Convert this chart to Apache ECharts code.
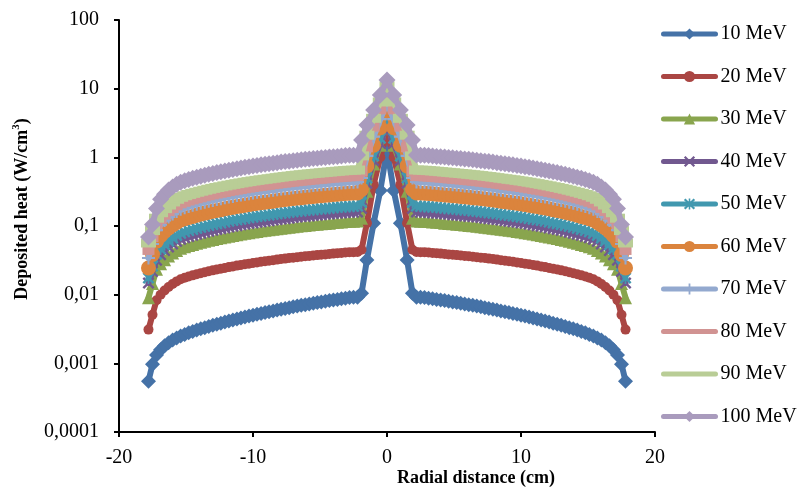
<!DOCTYPE html>
<html>
<head>
<meta charset="utf-8">
<script src="https://cdn.jsdelivr.net/npm/echarts@6/dist/echarts.min.js"></script>
<style>
html,body{margin:0;padding:0;background:#fff;}
#c{width:800px;height:491px;}
</style>
</head>
<body>
<div id="c"></div>
<script>
// Radial positions (cm)
const X = [-17.8, -17.5, -17.2, -16.9, -16.6, -16.3, -16.0, -15.7, -15.4, -15.1, -14.8, -14.5, -14.2, -13.9, -13.6, -13.3, -13.0, -12.7, -12.4, -12.1, -11.8, -11.5, -11.2, -10.9, -10.6, -10.3, -10.0, -9.7, -9.4, -9.1, -8.8, -8.5, -8.2, -7.9, -7.6, -7.3, -7.0, -6.7, -6.4, -6.1, -5.8, -5.5, -5.2, -4.9, -4.6, -4.3, -4.0, -3.7, -3.4, -3.1, -2.8, -2.5, -2.2,
 -1.9, -1.5, -1.0, -0.5, 0, 0.5, 1.0, 1.5, 1.9,
 2.2, 2.5, 2.8, 3.1, 3.4, 3.7, 4.0, 4.3, 4.6, 4.9, 5.2, 5.5, 5.8, 6.1, 6.4, 6.7, 7.0, 7.3, 7.6, 7.9, 8.2, 8.5, 8.8, 9.1, 9.4, 9.7, 10.0, 10.3, 10.6, 10.9, 11.2, 11.5, 11.8, 12.1, 12.4, 12.7, 13.0, 13.3, 13.6, 13.9, 14.2, 14.5, 14.8, 15.1, 15.4, 15.7, 16.0, 16.3, 16.6, 16.9, 17.2, 17.5, 17.8];

// Deposited heat (W/cm3) per beam energy
const E10 = [0.00055, 0.00097, 0.00132, 0.00158, 0.0018, 0.002, 0.00218, 0.00234, 0.00251, 0.00264, 0.00278, 0.00291, 0.00305, 0.00318, 0.00331, 0.00345, 0.00359, 0.00372, 0.00385, 0.00399, 0.00413, 0.00427, 0.00442, 0.00457, 0.00471, 0.00487, 0.00502, 0.00517, 0.00533, 0.00549, 0.00564, 0.00579, 0.00597, 0.00614, 0.0063, 0.00647, 0.00665, 0.00681, 0.00699, 0.00716, 0.00733, 0.0075, 0.00768, 0.00784, 0.008, 0.00819, 0.00835, 0.00852, 0.00873, 0.0089, 0.00906, 0.00914, 0.0092,
 0.0105, 0.032, 0.11, 0.33, 1.3, 0.33, 0.11, 0.032, 0.0105,
 0.0092, 0.00914, 0.00906, 0.0089, 0.00873, 0.00852, 0.00835, 0.00819, 0.008, 0.00784, 0.00768, 0.0075, 0.00733, 0.00716, 0.00699, 0.00681, 0.00665, 0.00647, 0.0063, 0.00614, 0.00597, 0.00579, 0.00564, 0.00549, 0.00533, 0.00517, 0.00502, 0.00487, 0.00471, 0.00457, 0.00442, 0.00427, 0.00413, 0.00399, 0.00385, 0.00372, 0.00359, 0.00345, 0.00331, 0.00318, 0.00305, 0.00291, 0.00278, 0.00264, 0.00251, 0.00234, 0.00218, 0.002, 0.0018, 0.00158, 0.00132, 0.00097, 0.00055];

const E20 = [0.0031, 0.0051, 0.0083, 0.00995, 0.0115, 0.0129, 0.0143, 0.0156, 0.0168, 0.0176, 0.0184, 0.0191, 0.0198, 0.0205, 0.0212, 0.0219, 0.0226, 0.0232, 0.0239, 0.0245, 0.0252, 0.0258, 0.0265, 0.0271, 0.0277, 0.0283, 0.0289, 0.0295, 0.0301, 0.0306, 0.0312, 0.0318, 0.0324, 0.033, 0.0335, 0.0341, 0.0346, 0.0352, 0.0357, 0.0362, 0.0367, 0.0372, 0.0377, 0.0381, 0.0386, 0.0391, 0.0396, 0.04, 0.0405, 0.041, 0.0414, 0.0416, 0.0418,
 0.045, 0.11, 0.4, 1.0, 2.3, 1.0, 0.4, 0.11, 0.045,
 0.0418, 0.0416, 0.0414, 0.041, 0.0405, 0.04, 0.0396, 0.0391, 0.0386, 0.0381, 0.0377, 0.0372, 0.0367, 0.0362, 0.0357, 0.0352, 0.0346, 0.0341, 0.0335, 0.033, 0.0324, 0.0318, 0.0312, 0.0306, 0.0301, 0.0295, 0.0289, 0.0283, 0.0277, 0.0271, 0.0265, 0.0258, 0.0252, 0.0245, 0.0239, 0.0232, 0.0226, 0.0219, 0.0212, 0.0205, 0.0198, 0.0191, 0.0184, 0.0176, 0.0168, 0.0156, 0.0143, 0.0129, 0.0115, 0.00995, 0.0083, 0.0051, 0.0031];

const E30 = [0.009, 0.0145, 0.0235, 0.0281, 0.0323, 0.0365, 0.0404, 0.0441, 0.0473, 0.0498, 0.0519, 0.0539, 0.0559, 0.0579, 0.0598, 0.0618, 0.0637, 0.0656, 0.0674, 0.0693, 0.0712, 0.0729, 0.0747, 0.0765, 0.0782, 0.08, 0.0817, 0.0833, 0.085, 0.0865, 0.088, 0.0897, 0.0913, 0.0931, 0.0946, 0.0962, 0.0977, 0.0992, 0.101, 0.102, 0.103, 0.105, 0.106, 0.108, 0.109, 0.11, 0.112, 0.113, 0.114, 0.116, 0.117, 0.1175, 0.118,
 0.13, 0.32, 0.8, 1.5, 3.3, 1.5, 0.8, 0.32, 0.13,
 0.118, 0.1175, 0.117, 0.116, 0.114, 0.113, 0.112, 0.11, 0.109, 0.108, 0.106, 0.105, 0.103, 0.102, 0.101, 0.0992, 0.0977, 0.0962, 0.0946, 0.0931, 0.0913, 0.0897, 0.088, 0.0865, 0.085, 0.0833, 0.0817, 0.08, 0.0782, 0.0765, 0.0747, 0.0729, 0.0712, 0.0693, 0.0674, 0.0656, 0.0637, 0.0618, 0.0598, 0.0579, 0.0559, 0.0539, 0.0519, 0.0498, 0.0473, 0.0441, 0.0404, 0.0365, 0.0323, 0.0281, 0.0235, 0.0145, 0.009];

const E40 = [0.0148, 0.0218, 0.0318, 0.0381, 0.0438, 0.0494, 0.0547, 0.0598, 0.0642, 0.0675, 0.0704, 0.0731, 0.0758, 0.0786, 0.0811, 0.0838, 0.0864, 0.089, 0.0914, 0.0939, 0.0965, 0.0989, 0.101, 0.104, 0.106, 0.109, 0.111, 0.113, 0.115, 0.117, 0.119, 0.122, 0.124, 0.126, 0.128, 0.13, 0.133, 0.135, 0.137, 0.138, 0.14, 0.142, 0.144, 0.146, 0.148, 0.15, 0.152, 0.153, 0.155, 0.157, 0.159, 0.159, 0.16,
 0.18, 0.42, 0.9, 1.6, 3.0, 1.6, 0.9, 0.42, 0.18,
 0.16, 0.159, 0.159, 0.157, 0.155, 0.153, 0.152, 0.15, 0.148, 0.146, 0.144, 0.142, 0.14, 0.138, 0.137, 0.135, 0.133, 0.13, 0.128, 0.126, 0.124, 0.122, 0.119, 0.117, 0.115, 0.113, 0.111, 0.109, 0.106, 0.104, 0.101, 0.0989, 0.0965, 0.0939, 0.0914, 0.089, 0.0864, 0.0838, 0.0811, 0.0786, 0.0758, 0.0731, 0.0704, 0.0675, 0.0642, 0.0598, 0.0547, 0.0494, 0.0438, 0.0381, 0.0318, 0.0218, 0.0148];

const E50 = [0.0175, 0.0261, 0.0388, 0.0464, 0.0534, 0.0603, 0.0667, 0.0729, 0.0782, 0.0823, 0.0858, 0.0891, 0.0924, 0.0957, 0.0989, 0.102, 0.105, 0.108, 0.111, 0.114, 0.118, 0.121, 0.123, 0.126, 0.129, 0.132, 0.135, 0.138, 0.14, 0.143, 0.145, 0.148, 0.151, 0.154, 0.156, 0.159, 0.161, 0.164, 0.166, 0.169, 0.171, 0.173, 0.176, 0.178, 0.18, 0.182, 0.185, 0.187, 0.189, 0.191, 0.193, 0.194, 0.195,
 0.22, 0.5, 1.05, 1.9, 3.6, 1.9, 1.05, 0.5, 0.22,
 0.195, 0.194, 0.193, 0.191, 0.189, 0.187, 0.185, 0.182, 0.18, 0.178, 0.176, 0.173, 0.171, 0.169, 0.166, 0.164, 0.161, 0.159, 0.156, 0.154, 0.151, 0.148, 0.145, 0.143, 0.14, 0.138, 0.135, 0.132, 0.129, 0.126, 0.123, 0.121, 0.118, 0.114, 0.111, 0.108, 0.105, 0.102, 0.0989, 0.0957, 0.0924, 0.0891, 0.0858, 0.0823, 0.0782, 0.0729, 0.0667, 0.0603, 0.0534, 0.0464, 0.0388, 0.0261, 0.0175];

const E60 = [0.0245, 0.0385, 0.0603, 0.0721, 0.083, 0.0936, 0.104, 0.113, 0.122, 0.128, 0.133, 0.138, 0.144, 0.149, 0.154, 0.159, 0.164, 0.168, 0.173, 0.178, 0.183, 0.187, 0.192, 0.196, 0.201, 0.205, 0.21, 0.214, 0.218, 0.222, 0.226, 0.23, 0.235, 0.239, 0.243, 0.247, 0.251, 0.255, 0.258, 0.262, 0.266, 0.269, 0.273, 0.276, 0.28, 0.283, 0.287, 0.29, 0.294, 0.297, 0.3, 0.302, 0.303,
 0.34, 0.75, 1.5, 2.7, 4.9, 2.7, 1.5, 0.75, 0.34,
 0.303, 0.302, 0.3, 0.297, 0.294, 0.29, 0.287, 0.283, 0.28, 0.276, 0.273, 0.269, 0.266, 0.262, 0.258, 0.255, 0.251, 0.247, 0.243, 0.239, 0.235, 0.23, 0.226, 0.222, 0.218, 0.214, 0.21, 0.205, 0.201, 0.196, 0.192, 0.187, 0.183, 0.178, 0.173, 0.168, 0.164, 0.159, 0.154, 0.149, 0.144, 0.138, 0.133, 0.128, 0.122, 0.113, 0.104, 0.0936, 0.083, 0.0721, 0.0603, 0.0385, 0.0245];

const E70 = [0.0342, 0.0546, 0.087, 0.104, 0.12, 0.135, 0.149, 0.163, 0.175, 0.184, 0.192, 0.2, 0.207, 0.215, 0.222, 0.229, 0.236, 0.243, 0.25, 0.257, 0.264, 0.27, 0.277, 0.283, 0.29, 0.296, 0.302, 0.309, 0.315, 0.32, 0.326, 0.332, 0.338, 0.345, 0.35, 0.356, 0.362, 0.368, 0.373, 0.378, 0.383, 0.388, 0.394, 0.399, 0.404, 0.409, 0.414, 0.419, 0.423, 0.428, 0.433, 0.435, 0.437,
 0.5, 1.05, 2.0, 3.6, 6.2, 3.6, 2.0, 1.05, 0.5,
 0.437, 0.435, 0.433, 0.428, 0.423, 0.419, 0.414, 0.409, 0.404, 0.399, 0.394, 0.388, 0.383, 0.378, 0.373, 0.368, 0.362, 0.356, 0.35, 0.345, 0.338, 0.332, 0.326, 0.32, 0.315, 0.309, 0.302, 0.296, 0.29, 0.283, 0.277, 0.27, 0.264, 0.257, 0.25, 0.243, 0.236, 0.229, 0.222, 0.215, 0.207, 0.2, 0.192, 0.184, 0.175, 0.163, 0.149, 0.135, 0.12, 0.104, 0.087, 0.0546, 0.0342];

const E80 = [0.0448, 0.0689, 0.106, 0.127, 0.146, 0.165, 0.183, 0.2, 0.214, 0.225, 0.235, 0.244, 0.253, 0.262, 0.271, 0.28, 0.288, 0.297, 0.305, 0.313, 0.322, 0.33, 0.338, 0.346, 0.354, 0.362, 0.37, 0.377, 0.384, 0.391, 0.398, 0.406, 0.413, 0.421, 0.428, 0.435, 0.442, 0.449, 0.456, 0.462, 0.468, 0.475, 0.481, 0.487, 0.493, 0.499, 0.506, 0.512, 0.517, 0.523, 0.529, 0.532, 0.534,
 0.62, 1.4, 2.8, 5.0, 9.0, 5.0, 2.8, 1.4, 0.62,
 0.534, 0.532, 0.529, 0.523, 0.517, 0.512, 0.506, 0.499, 0.493, 0.487, 0.481, 0.475, 0.468, 0.462, 0.456, 0.449, 0.442, 0.435, 0.428, 0.421, 0.413, 0.406, 0.398, 0.391, 0.384, 0.377, 0.37, 0.362, 0.354, 0.346, 0.338, 0.33, 0.322, 0.313, 0.305, 0.297, 0.288, 0.28, 0.271, 0.262, 0.253, 0.244, 0.235, 0.225, 0.214, 0.2, 0.183, 0.165, 0.146, 0.127, 0.106, 0.0689, 0.0448];

const E90 = [0.0566, 0.0857, 0.13, 0.156, 0.179, 0.202, 0.224, 0.245, 0.262, 0.276, 0.288, 0.299, 0.31, 0.321, 0.332, 0.343, 0.353, 0.364, 0.373, 0.384, 0.394, 0.404, 0.414, 0.424, 0.434, 0.443, 0.453, 0.462, 0.471, 0.479, 0.488, 0.497, 0.506, 0.516, 0.525, 0.533, 0.542, 0.55, 0.558, 0.566, 0.574, 0.581, 0.589, 0.596, 0.604, 0.611, 0.619, 0.627, 0.634, 0.641, 0.648, 0.651, 0.654,
 1.05, 2.1, 3.7, 6.4, 11, 6.4, 3.7, 2.1, 1.05,
 0.654, 0.651, 0.648, 0.641, 0.634, 0.627, 0.619, 0.611, 0.604, 0.596, 0.589, 0.581, 0.574, 0.566, 0.558, 0.55, 0.542, 0.533, 0.525, 0.516, 0.506, 0.497, 0.488, 0.479, 0.471, 0.462, 0.453, 0.443, 0.434, 0.424, 0.414, 0.404, 0.394, 0.384, 0.373, 0.364, 0.353, 0.343, 0.332, 0.321, 0.31, 0.299, 0.288, 0.276, 0.262, 0.245, 0.224, 0.202, 0.179, 0.156, 0.13, 0.0857, 0.0566];

const E100 = [0.069, 0.105, 0.18, 0.245, 0.29, 0.334, 0.369, 0.404, 0.433, 0.456, 0.475, 0.494, 0.512, 0.53, 0.548, 0.566, 0.583, 0.6, 0.617, 0.634, 0.651, 0.667, 0.684, 0.7, 0.716, 0.732, 0.747, 0.762, 0.778, 0.792, 0.806, 0.821, 0.836, 0.852, 0.866, 0.88, 0.894, 0.908, 0.921, 0.934, 0.947, 0.96, 0.973, 0.985, 0.998, 1.01, 1.02, 1.03, 1.05, 1.06, 1.07, 1.076, 1.08,
 1.79, 2.96, 4.9, 8.1, 13.4, 8.1, 4.9, 2.96, 1.79,
 1.08, 1.076, 1.07, 1.06, 1.05, 1.03, 1.02, 1.01, 0.998, 0.985, 0.973, 0.96, 0.947, 0.934, 0.921, 0.908, 0.894, 0.88, 0.866, 0.852, 0.836, 0.821, 0.806, 0.792, 0.778, 0.762, 0.747, 0.732, 0.716, 0.7, 0.684, 0.667, 0.651, 0.634, 0.617, 0.6, 0.583, 0.566, 0.548, 0.53, 0.512, 0.494, 0.475, 0.456, 0.433, 0.404, 0.369, 0.334, 0.29, 0.245, 0.18, 0.105, 0.069];

const SERIES_NAMES = ['10 MeV', '20 MeV', '30 MeV', '40 MeV', '50 MeV', '60 MeV', '70 MeV', '80 MeV', '90 MeV', '100 MeV'];
const SERIES_VALUES = [E10, E20, E30, E40, E50, E60, E70, E80, E90, E100];
const Y_TICK_LABELS = ['0,0001', '0,001', '0,01', '0,1', '1', '10', '100'];
const X_TICK_LABELS = ['-20', '-10', '0', '10', '20'];

const COLORS = ['#4572A7', '#AA4643', '#89A54E', '#71588F', '#4198AF', '#DB843D', '#93A9CF', '#D19392', '#B9CD96', '#A99BBD'];
const SYM_X = 'path://M0,1.4L1.4,0L5,3.6L8.6,0L10,1.4L6.4,5L10,8.6L8.6,10L5,6.4L1.4,10L0,8.6L3.6,5Z';
const SYM_STAR = 'path://M0,1.4L1.4,0L5,3.6L8.6,0L10,1.4L6.4,5L10,8.6L8.6,10L5,6.4L1.4,10L0,8.6L3.6,5ZM4.3,0H5.7V10H4.3Z';
const SYM_PLUS = 'path://M4.2,0H5.8V4.2H10V5.8H5.8V10H4.2V5.8H0V4.2H4.2Z';
const SYMBOLS = ['diamond', 'circle', 'triangle', SYM_X, SYM_STAR, 'circle', SYM_PLUS, 'rect', 'rect', 'diamond'];
const SYMBOL_SIZES = [15, 10, 13, 12, 12, 15, 13, [12, 10], [15, 9], 17];

SERIES_VALUES.forEach((a, i) => { if (a.length !== X.length) console.error('length mismatch', SERIES_NAMES[i], a.length, X.length); });

const FONT = 'Liberation Serif, Times New Roman, serif';

const chart = echarts.init(document.getElementById('c'), null, {renderer: 'canvas'});
const series = SERIES_NAMES.map((name, i) => ({
  name: name,
  type: 'line',
  z: 2 + i,
  data: X.map((x, k) => [x, SERIES_VALUES[i][k]]),
  symbol: SYMBOLS[i],
  symbolSize: SYMBOL_SIZES[i],
  showAllSymbol: true,
  clip: false,
  color: COLORS[i],
  lineStyle: {width: 6, color: COLORS[i], cap: 'round', join: 'round'},
  itemStyle: {color: COLORS[i], borderWidth: 0},
  emphasis: {disabled: true},
  animation: false
}));

chart.setOption({
  backgroundColor: '#fff',
  animation: false,
  grid: {left: 119, right: 145, top: 20, bottom: 59, containLabel: false},
  xAxis: {
    type: 'value', min: -20, max: 20, interval: 10,
    axisLine: {show: true, onZero: false, lineStyle: {color: '#000', width: 2}},
    axisTick: {show: true, inside: false, length: 5, lineStyle: {color: '#000', width: 2}},
    splitLine: {show: false},
    axisLabel: {color: '#000', fontFamily: FONT, fontSize: 20, margin: 16,
      formatter: v => X_TICK_LABELS[Math.round((v + 20) / 10)] ?? String(v)}
  },
  yAxis: {
    type: 'log', logBase: 10, min: 0.0001, max: 100,
    axisLine: {show: true, onZero: false, lineStyle: {color: '#000', width: 2}},
    axisTick: {show: true, inside: false, length: 5, lineStyle: {color: '#000', width: 2}},
    splitLine: {show: false},
    axisLabel: {color: '#000', fontFamily: FONT, fontSize: 20, margin: 20,
      formatter: v => { const e = Math.round(Math.log10(v)); return Y_TICK_LABELS[e + 4] || ''; }}
  },
  legend: {
    orient: 'vertical', left: 656, top: 19,
    itemWidth: 52, itemHeight: 14, itemGap: 22.5,
    textStyle: {color: '#000', fontFamily: FONT, fontSize: 20},
    lineStyle: {width: 5, cap: 'round'},
    selectedMode: false,
    data: SERIES_NAMES.map((n, i) => (i === 7 || i === 8) ? {name: n, itemStyle: {color: 'rgba(0,0,0,0)', borderWidth: 0}} : {name: n})
  },
  graphic: [
    {type: 'text', x: 22, y: 209, rotation: Math.PI / 2,
      style: {text: '{t|Deposited heat (W/cm}{s|3}{t|)}', align: 'center', verticalAlign: 'middle', fill: '#000',
        rich: {t: {fontFamily: FONT, fontSize: 18, fontWeight: 'bold', lineHeight: 22, fill: '#000'},
               s: {fontFamily: FONT, fontSize: 11, fontWeight: 'bold', lineHeight: 12, verticalAlign: 'top', fill: '#000'}}}},
    {type: 'text', x: 476, y: 478,
      style: {text: 'Radial distance (cm)', align: 'center', verticalAlign: 'middle', fill: '#000',
        font: 'bold 18px ' + FONT}}
  ],
  series: series
});
</script>
</body>
</html>
